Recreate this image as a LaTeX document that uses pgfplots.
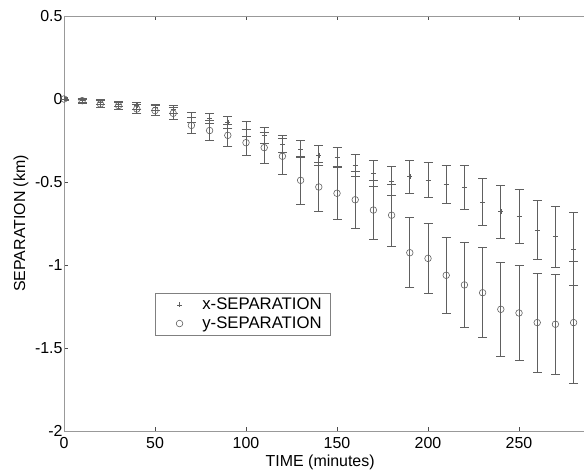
\documentclass[border=0pt]{standalone}
\usepackage{fontspec}
\setmainfont{Liberation Sans}
\usepackage{pgfplots}
\pgfplotsset{compat=1.18}
\usepackage{pgfplotstable}
\pgfplotstableread{
t v e
0 0 0.005
10 -0.01 0.01
20 -0.02 0.015
30 -0.03 0.015
40 -0.04 0.02
50 -0.05 0.02
60 -0.065 0.025
70 -0.11 0.03
80 -0.115 0.03
90 -0.14 0.035
100 -0.18 0.045
110 -0.22 0.05
120 -0.27 0.05
130 -0.30 0.05
140 -0.34 0.058
150 -0.353 0.06
160 -0.40 0.068
170 -0.446 0.078
180 -0.494 0.085
190 -0.468 0.10
200 -0.49 0.105
210 -0.516 0.113
220 -0.532 0.133
230 -0.62 0.143
240 -0.679 0.16
250 -0.707 0.165
260 -0.789 0.176
270 -0.83 0.183
280 -0.904 0.22
}\xsep
\pgfplotstableread{
t v e
0 0 0.01
10 -0.01 0.015
20 -0.03 0.02
30 -0.04 0.02
40 -0.06 0.025
50 -0.07 0.03
60 -0.086 0.035
70 -0.159 0.05
80 -0.19 0.058
90 -0.219 0.064
100 -0.263 0.08
110 -0.293 0.094
120 -0.345 0.108
130 -0.49 0.145
140 -0.53 0.15
150 -0.568 0.16
160 -0.607 0.17
170 -0.669 0.18
180 -0.70 0.187
190 -0.926 0.21
200 -0.96 0.213
210 -1.062 0.228
220 -1.12 0.256
230 -1.167 0.272
240 -1.267 0.285
250 -1.289 0.285
260 -1.347 0.298
270 -1.357 0.30
280 -1.347 0.367
}\ysep
\definecolor{barc}{HTML}{606060}
\begin{document}
\begin{tikzpicture}
\begin{axis}[name=ax,
  scale only axis, width=526bp, height=415bp,
  xmin=0, xmax=289, ymin=-2, ymax=0.5,
  xtick={0,50,100,150,200,250},
  ytick={-2,-1.5,-1,-0.5,0,0.5},
  yticklabels={-2,-1.5,-1,-0.5,0,0.5},
  tick align=inside, major tick length=4bp,
  tick style={black!70, line width=0.5pt},
  axis line style={black!40, line width=0.8pt},
  /pgf/number format/assume math mode=true,
  ticklabel style={font=\fontsize{16}{18}\selectfont},
  xticklabel style={yshift=-3bp},
  yticklabel style={xshift=2bp},
  xlabel={TIME (minutes)}, ylabel={SEPARATION (km)},
  label style={font=\fontsize{16}{18}\selectfont},
  xlabel style={at={(axis description cs:0.487,-0.0747)}, anchor=center},
  ylabel style={at={(axis description cs:-0.0817,0.5)}, anchor=center},
  legend style={at={(axis description cs:0.173,0.3325)}, anchor=north west,
    draw=black!50, line width=0.5pt, font=\fontsize{16.8}{18}\selectfont,
    inner xsep=5bp, inner ysep=3bp, row sep=1.5bp,
    nodes={inner xsep=3.5bp, inner ysep=2bp}},
  legend image code/.code={\path (0bp,0bp) (38bp,0bp); \draw[#1] plot coordinates {(19bp,0bp)};},
  legend cell align=left,
]
\addplot+[only marks, mark=+, mark size=2.5bp, color=barc, line width=0.6pt,
  error bars/.cd, y dir=both, y explicit,
  error bar style={line width=0.9pt, color=barc},
  error mark options={rotate=90, mark size=4.5bp, line width=0.9pt, color=barc}]
  table[x=t, y=v, y error=e] {\xsep};
\addlegendentry{x-SEPARATION}
\addplot+[only marks, mark=o, mark size=3.3bp, color=barc, line width=0.6pt,
  error bars/.cd, y dir=both, y explicit,
  error bar style={line width=0.9pt, color=barc},
  error mark options={rotate=90, mark size=4.5bp, line width=0.9pt, color=barc}]
  table[x=t, y=v, y error=e] {\ysep};
\addlegendentry{y-SEPARATION}
\end{axis}
\pgfresetboundingbox
\path ([shift={(-64bp,-41bp)}]ax.south west) rectangle ([shift={(-6bp,16bp)}]ax.north east);
\end{tikzpicture}
\end{document}
